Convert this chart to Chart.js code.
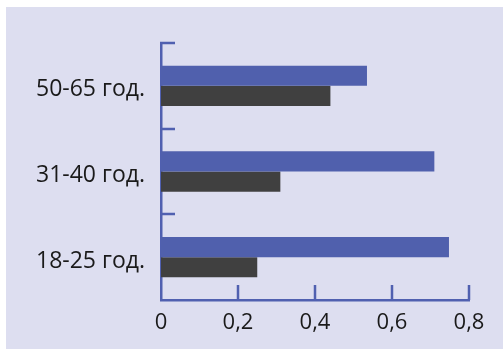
<!DOCTYPE html>
<html>
<head>
<meta charset="utf-8">
<script src="https://cdn.jsdelivr.net/npm/chart.js@4"></script>
<style>
  html, body { margin: 0; padding: 0; background: #ffffff; }
  #wrap { position: absolute; left: 0; top: 0; width: 503px; height: 349px; }
</style>
</head>
<body>
<div id="wrap"><canvas id="chart" width="503" height="349"></canvas></div>
<script>
// ===== 데이터 =====
const categories = ['50-65 год.', '31-40 год.', '18-25 год.'];
const blueValues = [0.535, 0.71, 0.748];
const darkValues = [0.44, 0.31, 0.25];
const xTicks = [0, 0.2, 0.4, 0.6, 0.8];

const AXIS_COLOR = '#5060b0';
const BG_COLOR = '#dddef0';

// 배경 (왼쪽/위 흰 여백)
const bgPlugin = {
  id: 'bg',
  beforeDraw(chart) {
    const ctx = chart.ctx;
    ctx.save();
    ctx.fillStyle = BG_COLOR;
    ctx.fillRect(6, 7, chart.width - 6, chart.height - 7);
    ctx.restore();
  }
};

// 안쪽으로 향하는 눈금
const innerTicks = {
  id: 'innerTicks',
  afterDraw(chart) {
    const ctx = chart.ctx;
    const x = chart.scales.x, y = chart.scales.y;
    ctx.save();
    ctx.strokeStyle = AXIS_COLOR;
    ctx.lineWidth = 2.5;
    ctx.beginPath();
    xTicks.slice(1).forEach(v => {
      const px = x.getPixelForValue(v);
      ctx.moveTo(px, y.bottom);
      ctx.lineTo(px, y.bottom - 15);
    });
    for (let i = 0; i < categories.length; i++) {
      const py = Math.round(y.getPixelForValue(i - 0.5));
      ctx.moveTo(x.left - 1, py);
      ctx.lineTo(x.left + 14, py);
    }
    ctx.stroke();
    ctx.restore();
  }
};

new Chart(document.getElementById('chart'), {
  type: 'bar',
  data: {
    labels: categories,
    datasets: [{
      data: blueValues,
      backgroundColor: '#5060ad',
      categoryPercentage: 0.47,
      barPercentage: 1.0
    }, {
      data: darkValues,
      backgroundColor: '#404040',
      categoryPercentage: 0.47,
      barPercentage: 1.0
    }]
  },
  options: {
    indexAxis: 'y',
    responsive: false,
    animation: false,
    layout: { padding: { top: 43, right: 34, left: 0, bottom: 0 } },
    plugins: { legend: { display: false }, tooltip: { enabled: false } },
    scales: {
      x: {
        min: 0,
        max: 0.8,
        afterBuildTicks(scale) {
          scale.ticks = xTicks.map(v => ({ value: v }));
        },
        afterFit(scale) { scale.height = 49; },
        grid: { display: false, drawTicks: false },
        border: { color: AXIS_COLOR, width: 2.5 },
        ticks: {
          padding: 10,
          color: '#1a1a1a',
          font: { family: 'Open Sans', size: 22 },
          callback: v => String(v).replace('.', ',')
        }
      },
      y: {
        afterFit(scale) { scale.width = 161; },
        grid: { display: false, drawTicks: false },
        border: { color: AXIS_COLOR, width: 2.5 },
        ticks: {
          padding: 16,
          labelOffset: 4,
          color: '#1a1a1a',
          font: { family: 'Open Sans', size: 23 }
        }
      }
    }
  },
  plugins: [bgPlugin, innerTicks]
});
</script>
</body>
</html>
